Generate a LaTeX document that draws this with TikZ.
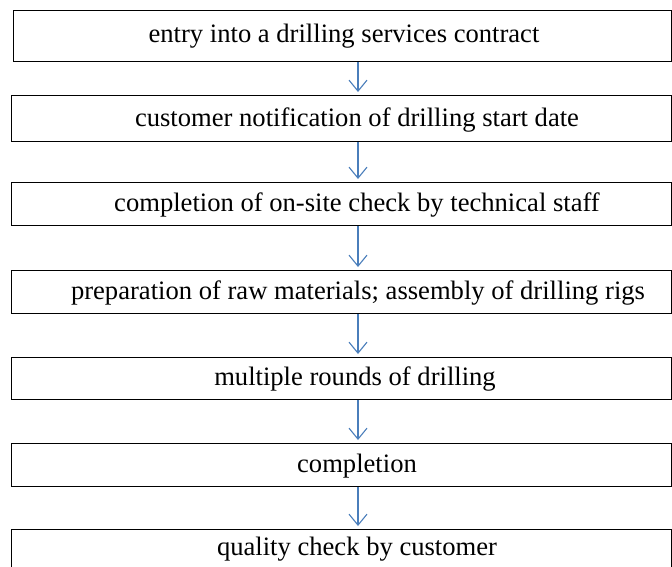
\documentclass[tikz,border=0pt]{standalone}
\usepackage{fontspec}
\setmainfont{Liberation Serif}
\usetikzlibrary{arrows.meta}
\definecolor{arrowblue}{RGB}{74,126,187}
\begin{document}
\begin{tikzpicture}[x=1pt,y=-1pt,
  stepbox/.style={draw=black, line width=1.1pt, rectangle, inner sep=0pt, anchor=north west},
  steptext/.style={font=\fontsize{26.6}{30}\selectfont, inner sep=0pt},
  flowarrow/.style={draw=arrowblue, line width=1.1pt, -{Straight Barb[length=11pt,width=18pt]}, shorten >=3pt}]
\useasboundingbox (0,0) rectangle (672,566);
\clip (0,0) rectangle (672,566);
\coordinate (ax) at (358,0);
\node[stepbox, minimum width=658pt, minimum height=51pt] (b1) at (13,10) {};
\node[stepbox, minimum width=660pt, minimum height=46pt] (b2) at (11,95) {};
\node[stepbox, minimum width=660pt, minimum height=43pt] (b3) at (11,182) {};
\node[stepbox, minimum width=660pt, minimum height=43pt] (b4) at (11,270) {};
\node[stepbox, minimum width=660pt, minimum height=42pt] (b5) at (11,357) {};
\node[stepbox, minimum width=660pt, minimum height=43pt] (b6) at (11,443) {};
\node[stepbox, minimum width=660pt, minimum height=46pt] (b7) at (11,529) {};
\node[steptext] (t1) at (344,36) {entry into a drilling services contract};
\node[steptext] (t2) at (357,120) {customer notification of drilling start date};
\node[steptext] (t3) at (357,205) {completion of on-site check by technical staff};
\node[steptext] (t4) at (358,293) {preparation of raw materials; assembly of drilling rigs};
\node[steptext] (t5) at (355,379) {multiple rounds of drilling};
\node[steptext] (t6) at (357,466) {completion};
\node[steptext] (t7) at (357,549) {quality check by customer};
\draw[flowarrow] (b1.south -| ax) -- (b2.north -| ax);
\draw[flowarrow] (b2.south -| ax) -- (b3.north -| ax);
\draw[flowarrow] (b3.south -| ax) -- (b4.north -| ax);
\draw[flowarrow] (b4.south -| ax) -- (b5.north -| ax);
\draw[flowarrow] (b5.south -| ax) -- (b6.north -| ax);
\draw[flowarrow] (b6.south -| ax) -- (b7.north -| ax);
\end{tikzpicture}
\end{document}
